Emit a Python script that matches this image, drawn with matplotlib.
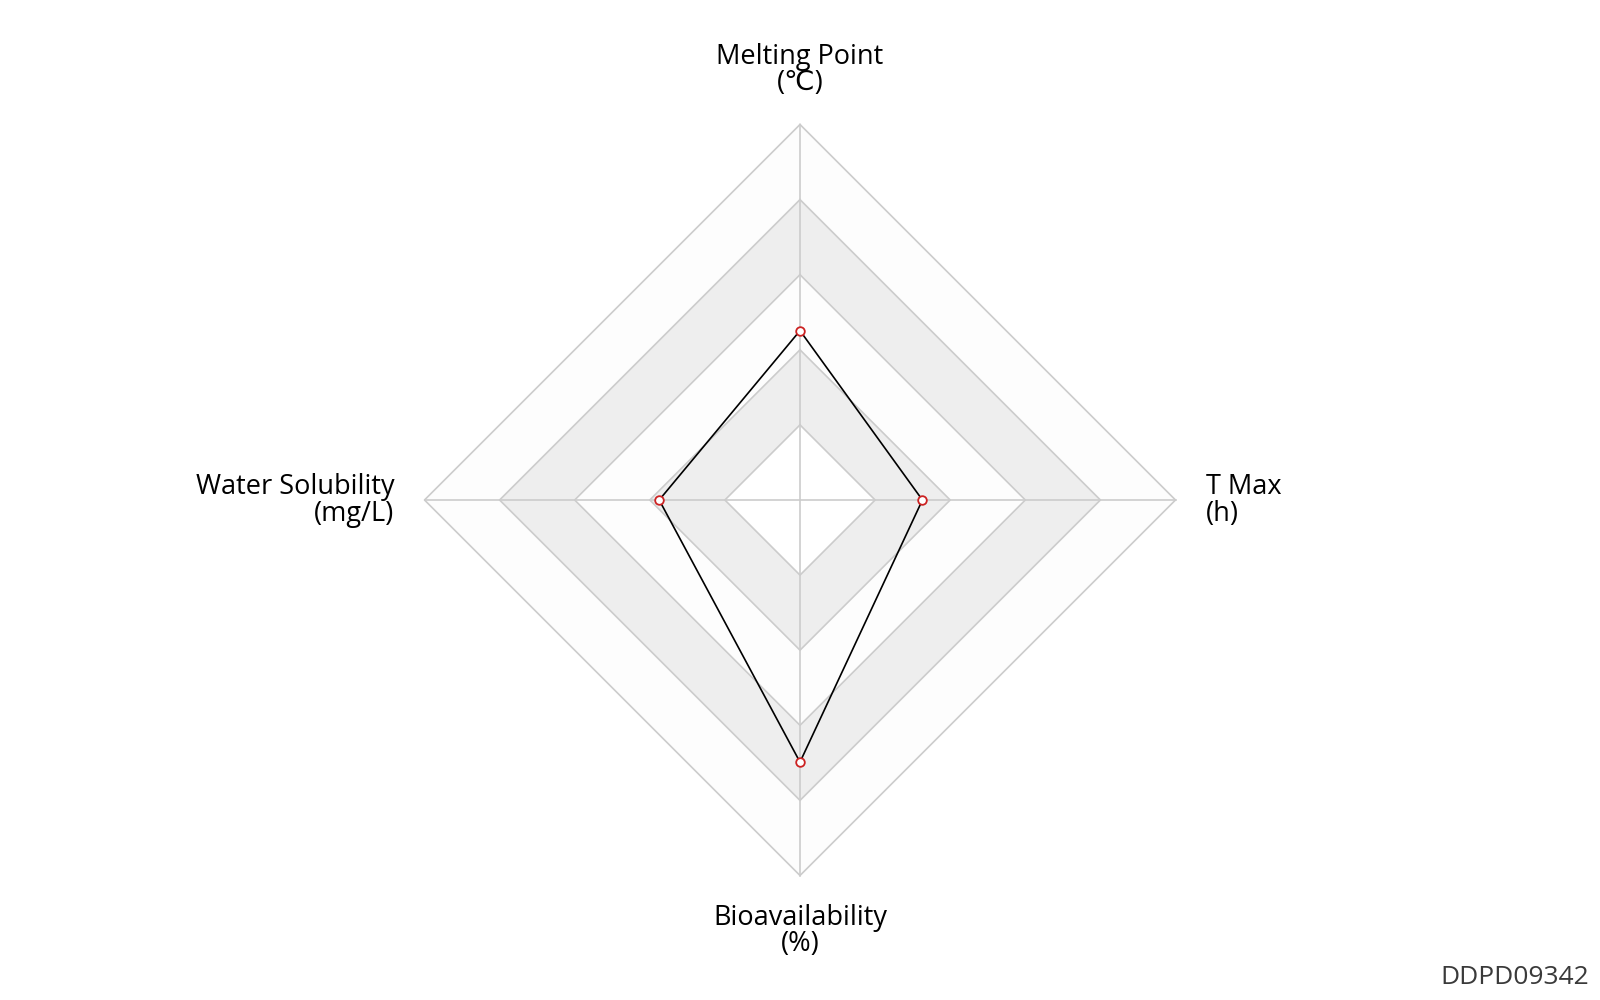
import numpy as np
import matplotlib.pyplot as plt

# axis names (clockwise from top) and normalised values (fraction of outer ring)
axis_names = ["Melting Point", "T Max", "Bioavailability", "Water Solubility"]
axis_units = ["(\u2103)", "(h)", "(%)", "(mg/L)"]
values = [0.451, 0.326, 0.698, 0.375]
n_levels = 5
code = "DDPD09342"

plt.rcParams['font.family'] = ['Open Sans', 'DejaVu Sans']

R = 375.5  # outer radius in pixels
fig = plt.figure(figsize=(16, 10), dpi=100)
ax = fig.add_axes([0, 0, 1, 1])
ax.set_xlim(-800 / R, 800 / R)
ax.set_ylim(-500 / R, 500 / R)
ax.set_aspect("equal")
ax.axis("off")

n = len(axis_names)
angles = np.pi / 2 - np.arange(n) * 2 * np.pi / n
ux, uy = np.cos(angles), np.sin(angles)

# rings, outermost first so inner ones paint over
band_colors = ["#ffffff", "#eeeeee", "#fdfdfd", "#eeeeee", "#fdfdfd"]
for lvl in range(n_levels, 0, -1):
    r = lvl / n_levels
    ax.fill(r * ux, r * uy, color=band_colors[lvl - 1], zorder=1, lw=0)
for lvl in range(1, n_levels + 1):
    r = lvl / n_levels
    ax.plot(np.append(r * ux, r * ux[0]), np.append(r * uy, r * uy[0]),
            color="#cccccc", lw=1.2, zorder=2)
for i in range(n):
    ax.plot([0, ux[i]], [0, uy[i]], color="#cccccc", lw=1.2, zorder=2)

# data polygon
v = np.array(values)
px, py = v * ux, v * uy
ax.plot(np.append(px, px[0]), np.append(py, py[0]), color="black", lw=1.2, zorder=3)
ax.plot(px, py, "o", ms=6.2, mfc="white", mec="#cc2222", mew=1.3, zorder=4)

# labels
fs = 19.5
ls = 0.95
ax.text(0, 430 / R, axis_names[0] + "\n" + axis_units[0], ha="center", va="center",
        fontsize=fs, linespacing=ls)
ax.text(1 + 30 / R, -0.5 / R, axis_names[1] + "\n" + axis_units[1], ha="left", va="center",
        fontsize=fs, linespacing=ls, multialignment="left")
ax.text(0, -431 / R, axis_names[2] + "\n" + axis_units[2], ha="center", va="center",
        fontsize=fs, linespacing=ls)
ax.text(-1 - 30 / R, -0.5 / R, axis_names[3] + "\n" + axis_units[3], ha="right", va="center",
        fontsize=fs, linespacing=ls, multialignment="right")

fig.text(0.993, 0.022, code, ha="right", va="center", fontsize=19, color="#3a3a3a")

fig.savefig("out.png", dpi=100, facecolor="white")
